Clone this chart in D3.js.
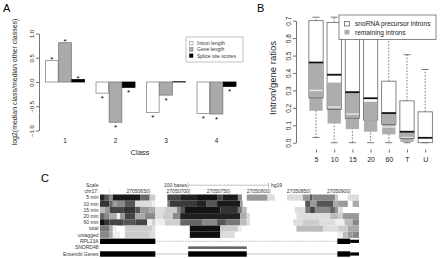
<!DOCTYPE html>
<html>
<head>
<meta charset="utf-8">
<script src="https://cdn.jsdelivr.net/npm/d3@7"></script>
<style>
  body { margin: 0; background: #fff; }
  svg { display: block; font-family: "Liberation Sans", Arial, sans-serif; }
</style>
</head>
<body>
<svg width="440" height="258"></svg>
<script>
const svg = d3.select('svg');

// ---------- data: panel A ----------
const classes = ['1', '2', '3', '4'];
const seriesA = ['Intron length', 'Gene length', 'Splice site scores'];
const intronLen = [0.44, -0.23, -0.63, -0.65];
const geneLen = [0.81, -0.83, -0.27, -0.66];
const spliceScore = [0.05, -0.11, 0.005, -0.09];
const sigIntron = [1, 1, 1, 1];
const sigGene = [1, 1, 1, 1];
const sigSplice = [1, 1, 0, 1];
const ticksA = [-1, -0.5, 0, 0.5, 1];

// ---------- data: panel B ----------
const boxCats = ['5', '10', '15', '20', '60', 'T', 'U'];
const snoLo = [0.03, 0, 0, 0, 0, 0, 0];
const snoQ1 = [0.257, 0.19, 0.14, 0.13, 0.105, 0.025, 0.0];
const snoMed = [0.46, 0.39, 0.29, 0.255, 0.17, 0.063, 0.028];
const snoQ3 = [0.70, 0.69, 0.66, 0.64, 0.353, 0.24, 0.177];
const snoHi = [0.72, 0.72, 0.72, 0.72, 0.70, 0.505, 0.42];
const remQ1 = [0.183, 0.11, 0.078, 0.063, 0.048, 0.005, null];
const remMed = [0.30, 0.205, 0.164, 0.13, 0.09, 0.03, null];
const remQ3 = [0.455, 0.345, 0.285, 0.235, 0.165, 0.06, null];
const ticksB = [0, 0.1, 0.2, 0.3, 0.4, 0.5, 0.6, 0.7];
const seriesB = ['snoRNA precursor introns', 'remaining introns'];

// ---------- data: panel C (positions are chr17:27050xxx) ----------
const heatRows = ['5 min', '10 min', '15 min', '20 min', '60 min', 'total', 'untagged'];
const rowMin5 = [[588,594,0x22],[594,600,0x55],[600,604,0x88],[604,638,0x1a],[638,650,0x66],[650,657,0xcc],
  [672,688,0x44],[688,709,0x22],[709,734,0x11],[734,741,0x44],[741,760,0x1a],[760,765,0x88],
  [771,797,0x99],[797,806,0xdd],[821,841,0xdd],[841,850,0x99],[850,853,0x55],[853,881,0x88],[881,885,0xcc],[897,911,0xdd]];
const rowMin10 = [[588,600,0x33],[600,604,0x66],[604,609,0x99],[609,619,0x88],[619,632,0x55],[632,653,0xdd],[653,657,0xee],
  [672,675,0x77],[675,709,0x3a],[709,721,0x22],[721,734,0x55],[734,763,0x1a],[763,766,0x99],
  [844,850,0x55],[850,858,0x99],[858,879,0x55],[879,885,0xaa],[885,897,0x99],[903,911,0xaa]];
const rowMin15 = [[588,594,0xbb],[594,600,0x99],[600,617,0x44],[617,632,0x33],[632,638,0x55],[638,650,0x99],[650,657,0xaa],
  [657,669,0xdd],[669,684,0xcc],[684,688,0x88],[688,694,0x55],[694,738,0x14],[738,760,0x33],[760,765,0x77],[765,771,0xbb],
  [831,844,0xdd],[844,850,0x77],[850,856,0x44],[856,875,0x88],[875,881,0x66],[881,885,0x99],[885,891,0xdd]];
const rowMin20 = [[588,594,0x66],[594,600,0x88],[600,609,0xaa],[609,613,0xee],[613,619,0x99],[619,632,0x44],[632,644,0xaa],[644,657,0x88],
  [657,666,0xdd],[666,679,0xcc],[679,688,0x88],[688,763,0x20],[763,771,0xaa],[771,775,0xdd],
  [833,875,0xdd],[875,885,0xbb],[885,891,0xcc],[891,911,0x99]];
const rowMin60 = [[588,594,0x11],[594,600,0x33],[600,617,0x44],[617,632,0x55],[632,647,0x44],[647,653,0xee],[653,657,0xcc],
  [657,669,0xee],[669,688,0xd0],[688,716,0x66],[716,734,0x88],[734,745,0x55],[745,763,0x77],[763,771,0xbb],[771,775,0xdd],
  [829,841,0xdd],[841,862,0xcc],[862,881,0xdd],[881,893,0xee],[893,903,0xbb],[903,911,0x88]];
const rowTotal = [[588,600,0x77],[600,604,0xaa],[604,609,0xee],[619,653,0xcc],[653,657,0xdd],
  [700,738,0x11],[738,760,0xcc],[760,765,0xee],
  [833,866,0xbb],[866,885,0xdd],[885,897,0xcc],[897,911,0xaa]];
const rowUntagged = [[588,600,0x88],[600,604,0xaa],[604,613,0xee],[619,650,0xcc],[650,657,0xdd],
  [700,738,0x11],[738,756,0xdd],
  [884,891,0xee],[891,897,0xbb],[897,903,0x99],[903,911,0x88]];
const heatData = [rowMin5, rowMin10, rowMin15, rowMin20, rowMin60, rowTotal, rowUntagged];
const coordTicks = [600, 650, 700, 750, 800, 850, 900];
const coordLabels = ['', '27050650', '27050700', '27050750', '27050800', '27050850', '27050900'];
const geneTracks = ['RPL23A', 'SNORD48', 'Ensembl Genes'];
const rpl23aExons = [[588, 657, 1], [884, 900, 1], [900, 911, 0]];
const rpl23aIntron = [657, 884];
const snord48 = [[698, 771]];
const ensemblExons = [[588, 657, 1], [698, 771, 1], [884, 900, 1], [900, 911, 0]];
const ensemblIntron = [657, 884];
const scaleBar = [698, 798];

const FONT_AX = '#222';

// ================= Panel A =================
const xA = d3.scaleBand().domain(classes).range([39.75, 241.75]).paddingInner(0.228).paddingOuter(0.114);
const xA2 = d3.scaleBand().domain(d3.range(3)).range([0, xA.bandwidth()]).paddingInner(0.04);
const yA = d3.scaleLinear().domain([-1, 1]).range([130.5, 33.5]);
const valuesA = [intronLen, geneLen, spliceScore];
const sigA = [sigIntron, sigGene, sigSplice];
const fillA = ['#fff', '#aaa', '#000'];
const strokeA = ['#888', '#777', '#000'];

svg.append('text').attr('x', 3).attr('y', 12).attr('font-size', 11).text('A');

const gA = svg.append('g').attr('id', 'barsA');
valuesA.forEach((vals, s) => {
  gA.append('g').selectAll('rect')
    .data(vals.map((v, i) => ({ v, c: classes[i] })))
    .join('rect')
    .attr('x', d => xA(d.c) + xA2(s))
    .attr('width', xA2.bandwidth())
    .attr('y', d => yA(Math.max(d.v, 0)))
    .attr('height', d => Math.abs(yA(d.v) - yA(0)))
    .attr('fill', fillA[s])
    .attr('stroke', strokeA[s])
    .attr('stroke-width', 0.8);
  gA.append('g').selectAll('text')
    .data(vals.map((v, i) => ({ v, c: classes[i], sig: sigA[s][i] })).filter(d => d.sig))
    .join('text')
    .attr('x', d => xA(d.c) + xA2(s) + xA2.bandwidth() / 2)
    .attr('y', d => d.v >= 0 ? yA(d.v) + 1.5 : yA(d.v) + 7.5)
    .attr('text-anchor', 'middle')
    .attr('font-size', 8)
    .text('*');
});

const axA = svg.append('g').attr('transform', 'translate(39,0)')
  .call(d3.axisLeft(yA).tickValues(ticksA).tickSize(3).tickSizeOuter(0).tickFormat(d3.format('.1f')));
axA.selectAll('path, line').attr('stroke', '#333').attr('stroke-width', 0.7);
axA.selectAll('text')
  .attr('x', null).attr('dy', null)
  .attr('transform', 'translate(-5,0) rotate(-90)')
  .attr('text-anchor', 'middle')
  .attr('font-size', 6)
  .attr('fill', FONT_AX);
axA.attr('font-family', null);

svg.append('g').selectAll('text')
  .data(classes)
  .join('text')
  .attr('x', d => xA(d) + xA.bandwidth() / 2)
  .attr('y', 142.5)
  .attr('text-anchor', 'middle')
  .attr('font-size', 6.5)
  .attr('fill', FONT_AX)
  .text(d => d);

svg.append('text').attr('x', 140).attr('y', 155).attr('text-anchor', 'middle')
  .attr('font-size', 7.5).attr('fill', FONT_AX).text('Class');
svg.append('text')
  .attr('transform', 'translate(17,82) rotate(-90)')
  .attr('text-anchor', 'middle')
  .attr('font-size', 7)
  .attr('fill', FONT_AX)
  .text('log2(median class/median other classes)');

// legend A
const legA = svg.append('g').attr('transform', 'translate(186,37)');
legA.append('rect').attr('width', 57).attr('height', 25).attr('fill', '#fff').attr('stroke', '#999').attr('stroke-width', 0.6);
seriesA.forEach((name, s) => {
  legA.append('rect').attr('x', 3.5).attr('y', 4.5 + s * 6.2).attr('width', 3.5).attr('height', 3.5)
    .attr('fill', fillA[s]).attr('stroke', s === 2 ? '#000' : '#777').attr('stroke-width', 0.5);
  legA.append('text').attr('x', 11).attr('y', 8.2 + s * 6.2).attr('font-size', 5).attr('fill', '#333').text(name);
});

// ================= Panel B =================
const xB = d3.scalePoint().domain(boxCats).range([316, 425.2]);
const yB = d3.scaleLinear().domain([0, 0.7]).range([142.7, 20.7]);
const BW = 14.3;
const CAP = 7;

svg.append('text').attr('x', 257).attr('y', 12).attr('font-size', 11).text('B');

const gB = svg.append('g').attr('id', 'boxesB');
const boxes = boxCats.map((c, i) => ({
  c, lo: snoLo[i], q1: snoQ1[i], med: snoMed[i], q3: snoQ3[i], hi: snoHi[i],
  rq1: remQ1[i], rmed: remMed[i], rq3: remQ3[i]
}));

gB.selectAll('rect.sno').data(boxes).join('rect').attr('class', 'sno')
  .attr('x', d => xB(d.c) - BW / 2).attr('width', BW)
  .attr('y', d => yB(d.q3)).attr('height', d => yB(d.q1) - yB(d.q3))
  .attr('fill', '#fff');

// whiskers
[['hi', 'q3'], ['lo', 'q1']].forEach(([end, start]) => {
  gB.append('g').selectAll('line').data(boxes).join('line')
    .attr('x1', d => xB(d.c)).attr('x2', d => xB(d.c))
    .attr('y1', d => yB(d[start])).attr('y2', d => yB(d[end]))
    .attr('stroke', '#444').attr('stroke-width', 0.7).attr('stroke-dasharray', '1.6,1.6');
  gB.append('g').selectAll('line').data(boxes).join('line')
    .attr('x1', d => xB(d.c) - CAP / 2).attr('x2', d => xB(d.c) + CAP / 2)
    .attr('y1', d => yB(d[end])).attr('y2', d => yB(d[end]))
    .attr('stroke', '#444').attr('stroke-width', 0.7);
});

const rem = boxes.filter(d => d.rq1 !== null);
gB.selectAll('rect.rem').data(rem).join('rect').attr('class', 'rem')
  .attr('x', d => xB(d.c) - BW / 2 + 0.5).attr('width', BW - 1)
  .attr('y', d => yB(d.rq3)).attr('height', d => yB(d.rq1) - yB(d.rq3))
  .attr('fill', '#adadad');
gB.selectAll('line.rmed').data(rem).join('line').attr('class', 'rmed')
  .attr('x1', d => xB(d.c) - BW / 2 + 0.5).attr('x2', d => xB(d.c) + BW / 2 - 0.5)
  .attr('y1', d => yB(d.rmed)).attr('y2', d => yB(d.rmed))
  .attr('stroke', '#e8e8e8').attr('stroke-width', 1.4);

gB.selectAll('rect.snoOutline').data(boxes).join('rect').attr('class', 'snoOutline')
  .attr('x', d => xB(d.c) - BW / 2).attr('width', BW)
  .attr('y', d => yB(d.q3)).attr('height', d => yB(d.q1) - yB(d.q3))
  .attr('fill', 'none').attr('stroke', '#666').attr('stroke-width', 0.8);
gB.selectAll('line.smed').data(boxes).join('line').attr('class', 'smed')
  .attr('x1', d => xB(d.c) - BW / 2).attr('x2', d => xB(d.c) + BW / 2)
  .attr('y1', d => yB(d.med)).attr('y2', d => yB(d.med))
  .attr('stroke', '#111').attr('stroke-width', 1.8);

const axB = svg.append('g').attr('transform', 'translate(296,0)')
  .call(d3.axisLeft(yB).tickValues(ticksB).tickSize(3).tickSizeOuter(0).tickFormat(d3.format('.1f')));
axB.selectAll('path, line').attr('stroke', '#333').attr('stroke-width', 0.7);
axB.attr('font-family', null);
axB.selectAll('text')
  .attr('x', null).attr('dy', null)
  .attr('transform', 'translate(-5,0) rotate(-90)')
  .attr('text-anchor', 'middle')
  .attr('font-size', 6.5)
  .attr('fill', FONT_AX);

const axBx = svg.append('g').attr('transform', 'translate(0,149.5)')
  .call(d3.axisBottom(xB).tickSize(3));
axBx.select('.domain').remove();
axBx.attr('font-family', null);
axBx.selectAll('line').attr('stroke', '#333').attr('stroke-width', 0.7);
axBx.selectAll('text').attr('y', 12.5).attr('dy', null).attr('font-size', 7).attr('fill', FONT_AX);

svg.append('text')
  .attr('transform', 'translate(276,78) rotate(-90)')
  .attr('text-anchor', 'middle')
  .attr('font-size', 9.5)
  .attr('fill', FONT_AX)
  .text('Intron/gene ratios');

// legend B
const legB = svg.append('g').attr('transform', 'translate(339,15)');
legB.append('rect').attr('width', 97).attr('height', 24.5).attr('fill', '#fff').attr('stroke', '#555').attr('stroke-width', 0.7);
seriesB.forEach((name, s) => {
  legB.append('rect').attr('x', 5.5).attr('y', 6.5 + s * 8.5).attr('width', 5).attr('height', 4.5)
    .attr('fill', s === 0 ? '#fff' : '#adadad').attr('stroke', s === 0 ? '#555' : 'none').attr('stroke-width', 0.7);
  legB.append('text').attr('x', 16).attr('y', 11.3 + s * 8.5).attr('font-size', 6.6).attr('fill', '#222').text(name);
});

// ================= Panel C =================
const xC = d3.scaleLinear().domain([588, 911]).range([100, 359]);
const yC = d3.scaleBand().domain(heatRows).range([194.5, 237.9]);
const yG = d3.scalePoint().domain(geneTracks).range([241.3, 254]);
const LBL_X = 98.5;

svg.append('text').attr('x', 41).attr('y', 182).attr('font-size', 11).text('C');

const gC = svg.append('g').attr('id', 'tracks');
heatData.forEach((segs, r) => {
  gC.append('g').selectAll('rect').data(segs).join('rect')
    .attr('x', d => xC(d[0])).attr('width', d => xC(d[1]) - xC(d[0]))
    .attr('y', yC(heatRows[r])).attr('height', yC.bandwidth())
    .attr('fill', d => d3.rgb(d[2], d[2], d[2]));
});

const labelsC = ['Scale', 'chr17:'].concat(heatRows, geneTracks);
const labelY = ['Scale', 'chr17:'].map((_, i) => 187 + i * 6)
  .concat(heatRows.map(r => yC(r) + yC.bandwidth() / 2 + 1.8), geneTracks.map(g => yG(g) + 1.8));
svg.append('g').selectAll('text').data(labelsC).join('text')
  .attr('x', LBL_X).attr('y', (d, i) => labelY[i])
  .attr('text-anchor', 'end').attr('font-size', 5).attr('fill', '#333')
  .text(d => d);

// scale bar
svg.append('text').attr('x', xC(scaleBar[0]) - 1.2).attr('y', 187).attr('text-anchor', 'end')
  .attr('font-size', 5).attr('fill', '#333').text('100 bases');
svg.append('line').attr('x1', xC(scaleBar[0])).attr('x2', xC(scaleBar[1])).attr('y1', 185.2).attr('y2', 185.2)
  .attr('stroke', '#999').attr('stroke-width', 0.6);
scaleBar.forEach(p => svg.append('line').attr('x1', xC(p)).attr('x2', xC(p)).attr('y1', 182.5).attr('y2', 188)
  .attr('stroke', '#999').attr('stroke-width', 0.6));
svg.append('text').attr('x', xC(scaleBar[1]) + 2.5).attr('y', 187)
  .attr('font-size', 5).attr('fill', '#333').text('hg19');

// coordinate ruler
svg.append('g').selectAll('line').data(coordTicks).join('line')
  .attr('x1', d => xC(d)).attr('x2', d => xC(d)).attr('y1', 188.5).attr('y2', 194)
  .attr('stroke', (d, i) => coordLabels[i] ? '#888' : '#ccc').attr('stroke-width', 0.6);
svg.append('g').selectAll('text').data(coordTicks).join('text')
  .attr('x', d => xC(d) - 1).attr('y', 193)
  .attr('text-anchor', 'end').attr('font-size', 5).attr('fill', '#333')
  .text((d, i) => coordLabels[i]);

// gene tracks
const drawGene = (exons, intron, track, intronStyle) => {
  const yc = yG(track);
  const line = svg.append('line').attr('x1', xC(intron[0])).attr('x2', xC(intron[1]))
    .attr('y1', yc).attr('y2', yc).attr('stroke', '#aaa').attr('stroke-width', 0.7);
  if (intronStyle === 'arrows') line.attr('stroke-dasharray', '2,1');
  svg.append('g').selectAll('rect').data(exons).join('rect')
    .attr('x', d => xC(d[0])).attr('width', d => xC(d[1]) - xC(d[0]))
    .attr('y', d => yc - (d[2] ? 2.7 : 1.6)).attr('height', d => d[2] ? 5.4 : 3.2)
    .attr('fill', '#000');
};
drawGene(rpl23aExons, rpl23aIntron, 'RPL23A', 'arrows');
drawGene(ensemblExons, ensemblIntron, 'Ensembl Genes', 'plain');
svg.append('g').selectAll('rect').data(snord48).join('rect')
  .attr('x', d => xC(d[0])).attr('width', d => xC(d[1]) - xC(d[0]))
  .attr('y', yG('SNORD48') - 1.3).attr('height', 2.6)
  .attr('fill', '#666');
</script>
</body>
</html>
